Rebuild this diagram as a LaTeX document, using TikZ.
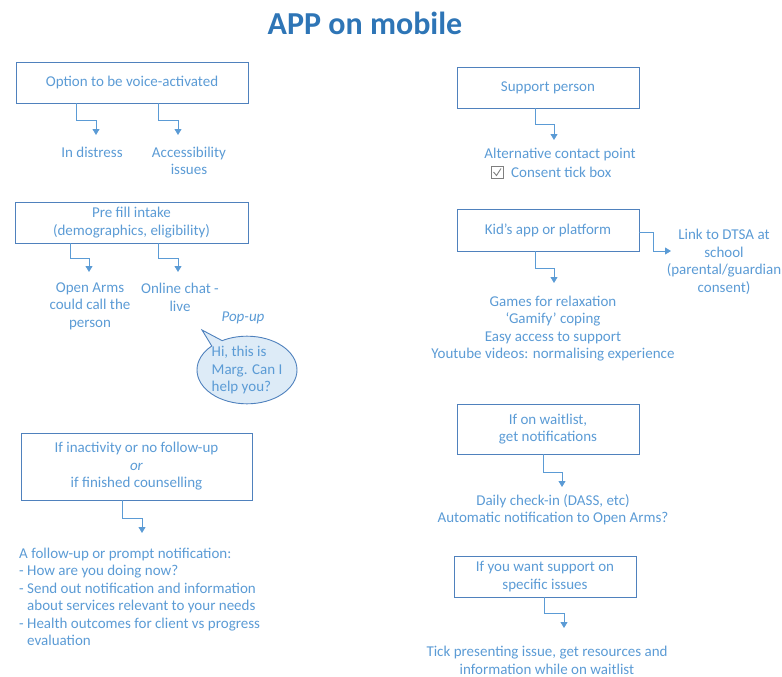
\documentclass[tikz,border=0pt]{standalone}
\usepackage{fontspec}
\setmainfont{Carlito}
\usetikzlibrary{arrows.meta,shapes.callouts}
\definecolor{tblue}{HTML}{5B9BD5}
\definecolor{titleblue}{HTML}{2E75B6}
\definecolor{boxblue}{HTML}{4F81BD}
\definecolor{bubblefill}{HTML}{DDEBF7}
\definecolor{tickgray}{HTML}{7F7F7F}
\tikzset{
  box/.style={draw=boxblue, line width=0.9pt, rectangle, inner sep=0pt, text=tblue, align=center, font=\fontsize{15}{17.5}\selectfont},
  txt/.style={text=tblue, align=center, inner sep=0pt, font=\fontsize{15}{17.5}\selectfont},
  conn/.style={draw=tblue, line width=0.8pt, -{Triangle[width=7pt,length=6pt]}},
}
\begin{document}
\begin{tikzpicture}[x=1pt,y=-1pt]
\useasboundingbox (0,0) rectangle (782,677);
% title
\node[text=titleblue, inner sep=0pt, font=\fontsize{32}{34}\selectfont\bfseries] (title) at (365,23) {APP on mobile};

% left column
\node[box, minimum width=232pt, minimum height=41pt] (b1) at (132,82.5) {Option to be voice-activated};
\node[txt] (t1) at (92,152) {In distress};
\node[txt] (t2) at (189,161) {Accessibility\\issues};
\coordinate (a1) at (96,135);
\coordinate (a2) at (178,135);
\draw[conn] (b1.south -| 76,0) -- (76,120) -| (a1);
\draw[conn] (b1.south -| 158,0) -- (158,120) -| (a2);

\node[box, minimum width=233pt, minimum height=41pt] (b2) at (131.5,222.5) {Pre fill intake\\(demographics, eligibility)};
\node[txt] (t3) at (90,306) {Open Arms\\could call the\\person};
\node[txt] (t4) at (180,297.5) {Online chat -\\live};
\coordinate (a3) at (89,272);
\coordinate (a4) at (178,272);
\draw[conn] (b2.south -| 70,0) -- (70,258) -| (a3);
\draw[conn] (b2.south -| 158,0) -- (158,258) -| (a4);

\node[txt, font=\fontsize{15}{17.5}\selectfont\itshape] (pop) at (243,318) {Pop-up};
\node[ellipse callout, draw=boxblue, line width=0.9pt, fill=bubblefill, minimum width=100pt, minimum height=62pt, inner sep=0pt, text=tblue, align=left, font=\fontsize{15}{17.5}\selectfont, callout absolute pointer={(202,330)}] (bubble) at (247,370) {Hi, this is\\Marg. Can I\\help you?};

\node[box, minimum width=231pt, minimum height=67pt] (b3) at (136.5,466.5) {If inactivity or no follow-up\\\textit{or}\\if finished counselling};
\node[txt, align=left, anchor=west] (t5) at (19,597) {A follow-up or prompt notification:\\- How are you doing now?\\- Send out notification and information\\\hspace*{8pt}about services relevant to your needs\\- Health outcomes for client vs progress\\\hspace*{8pt}evaluation};
\coordinate (a5) at (142,533);
\draw[conn] (b3.south -| 122,0) -- (122,518) -| (a5);

% right column
\node[box, minimum width=182pt, minimum height=41pt] (b4) at (548,87.5) {Support person};
\node[txt] (t6) at (560,155) {Alternative contact point};
\node[txt, anchor=west] (t6b) at (511,172) {Consent tick box};
\draw[tickgray, line width=0.7pt] (491,166) rectangle (503,178);
\draw[tickgray, line width=0.9pt] (493.5,172) -- (496.5,175.5) -- (501,168.5);
\coordinate (a6) at (554,140);
\draw[conn] (b4.south -| 535,0) -- (535,124) -| (a6);

\node[box, minimum width=182pt, minimum height=42pt] (b5) at (548,230) {Kid’s app or platform};
\node[txt] (t7) at (724,262) {Link to DTSA at\\school\\(parental/guardian\\consent)};
\node[txt] (t8) at (553,328.5) {Games for relaxation\\‘Gamify’ coping\\Easy access to support\\Youtube videos: normalising experience};
\coordinate (a7) at (554,283);
\coordinate (a8) at (671,251);
\draw[conn] (b5.south -| 535,0) -- (535,268) -| (a7);
\draw[conn] (b5.east |- 0,232) -- (653,232) |- (a8);

\node[box, minimum width=182pt, minimum height=50pt] (b6) at (548,429) {If on waitlist,\\get notifications};
\node[txt] (t9) at (553,509.5) {Daily check-in (DASS, etc)\\Automatic notification to Open Arms?};
\coordinate (a9) at (562,487);
\draw[conn] (b6.south -| 543,0) -- (543,472) -| (a9);

\node[box, minimum width=182pt, minimum height=41pt] (b7) at (545,576.5) {If you want support on\\specific issues};
\node[txt] (t10) at (547,660.5) {Tick presenting issue, get resources and\\information while on waitlist};
\coordinate (a10) at (564,628);
\draw[conn] (b7.south -| 544,0) -- (544,613) -| (a10);
\end{tikzpicture}
\end{document}
